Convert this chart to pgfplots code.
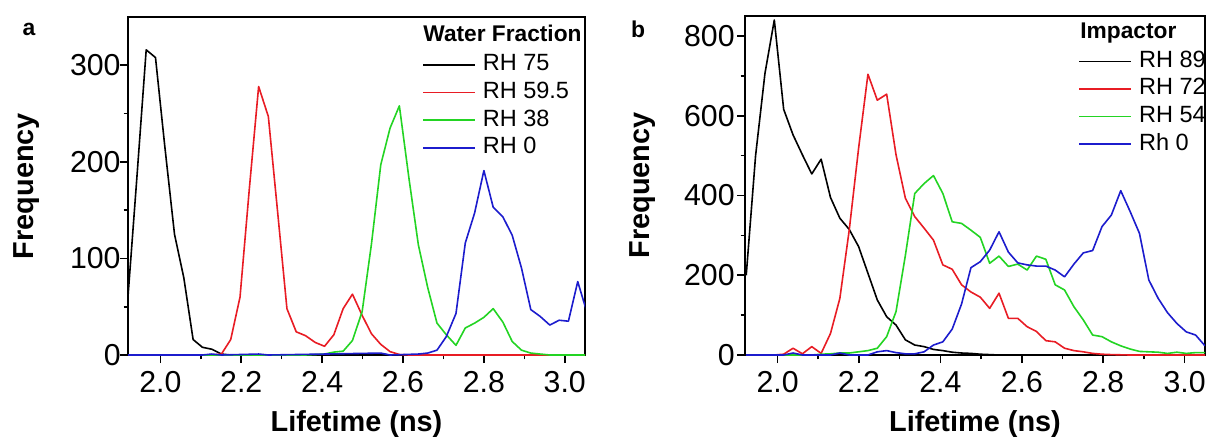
\documentclass[border=0pt]{standalone}
\usepackage{fontspec}
\setmainfont{Liberation Sans}
\usepackage{pgfplots}
\pgfplotsset{compat=1.18}

\definecolor{cred}{RGB}{232,28,36}
\definecolor{cgreen}{RGB}{35,212,35}
\definecolor{cblue}{RGB}{28,28,205}

\pgfplotsset{
  panel/.style={
    scale only axis,
    xmin=1.92, xmax=3.05, ymin=0,
    xtick={2.0,2.2,2.4,2.6,2.8,3.0},
    minor xtick={2.1,2.3,2.5,2.7,2.9},
    tick align=outside, xtick pos=bottom, ytick pos=left,
    major tick length=4bp, minor tick length=2.2bp,
    axis line style={line width=0.8bp},
    every tick/.style={black, line width=0.8bp},
    /pgf/number format/assume math mode=true,
    tick label style={font=\fontsize{15.2}{17}\selectfont},
    xticklabel style={/pgf/number format/fixed, /pgf/number format/fixed zerofill,
      /pgf/number format/precision=1, inner sep=0pt, yshift=-4bp},
    label style={font=\fontsize{14.5}{17}\selectfont\bfseries},
    xlabel={Lifetime (ns)}, ylabel={Frequency},
    xlabel style={at={(axis description cs:0.5,-0.205)}, anchor=center},
    ylabel style={at={(axis description cs:-0.222,0.5)}, anchor=center},
    every axis plot/.append style={line width=0.8bp, line join=round},
    legend cell align=left,
    legend style={draw=none, fill=none, anchor=north west, inner sep=0pt,
      row sep=0pt, column sep=3.5bp, font=\fontsize{11.8}{13}\selectfont,
      nodes={inner sep=0pt, text height=9.8bp, text depth=4bp}},
    legend image code/.code={\draw[mark repeat=2,mark phase=2,#1] plot coordinates {(0bp,0bp) (13bp,0bp) (26bp,0bp)};},
  },
}

\begin{document}
\begin{tikzpicture}
\useasboundingbox (0bp,0bp) rectangle (603bp,-221.5bp);

% panel a: water fraction
\begin{axis}[panel,
  at={(64bp,-177.5bp)}, anchor=south west,
  width=228.5bp, height=169bp,
  ymax=350, ytick={0,100,200,300}, minor ytick={50,150,250},
  yticklabel style={inner sep=0pt, xshift=0.5bp},
  legend style={at={(rel axis cs:0.643,0.900)}},
]
\addplot[black] coordinates {(1.919,55)(1.942,184)(1.965,316)(1.988,308)(2.011,216)(2.035,125)(2.058,80)(2.081,16)(2.104,8)(2.127,6)(2.151,1)(2.174,0)(2.3,0)(2.5,0)(2.7,0)(2.9,0)(3.055,0)};
\addlegendentry{RH 75}
\addplot[cred] coordinates {(1.919,0)(2.127,0)(2.151,1)(2.174,16)(2.197,60)(2.220,172)(2.243,278)(2.267,247)(2.290,148)(2.313,48)(2.336,24)(2.359,20)(2.383,13)(2.406,9)(2.429,21)(2.452,48)(2.475,63)(2.499,41)(2.522,22)(2.545,11)(2.568,3.5)(2.591,0.5)(2.615,0)(3.055,0)};
\addlegendentry{RH 59.5}
\addplot[cgreen] coordinates {(1.919,0)(2.359,0)(2.383,0.5)(2.406,1)(2.429,3)(2.452,4)(2.475,15)(2.499,45)(2.522,115)(2.545,197)(2.568,235)(2.591,258)(2.615,182)(2.638,114)(2.661,70)(2.684,33)(2.707,21)(2.731,10)(2.754,28)(2.777,33)(2.800,39)(2.823,48)(2.847,34)(2.870,14)(2.893,5)(2.916,2)(2.939,1)(2.963,0)(3.055,0)};
\addlegendentry{RH 38}
\addplot[cblue] coordinates {(1.919,0)(2.104,0)(2.127,1)(2.151,0)(2.243,1)(2.267,0)(2.545,2)(2.568,0)(2.638,1)(2.661,2)(2.684,5)(2.707,19)(2.731,43)(2.754,116)(2.777,147)(2.800,191)(2.823,153)(2.847,143)(2.870,124)(2.893,90)(2.916,47)(2.939,40)(2.963,31)(2.986,36)(3.009,35)(3.032,76)(3.055,44)};
\addlegendentry{RH 0}
\end{axis}

% panel b: impactor
\begin{axis}[panel,
  at={(372.5bp,-177.5bp)}, anchor=south west,
  width=230bp, height=169.5bp,
  ymax=850, ytick={0,200,400,600,800}, minor ytick={100,300,500,700},
  yticklabel style={inner sep=0pt, xshift=-1bp},
  legend style={at={(rel axis cs:0.724,0.908)}},
]
\addplot[black] coordinates {(1.923,200)(1.946,500)(1.969,706)(1.992,840)(2.015,616)(2.038,552)(2.061,502)(2.084,454)(2.107,491)(2.130,395)(2.153,343)(2.176,315)(2.199,272)(2.222,205)(2.245,138)(2.268,96)(2.291,75)(2.314,38)(2.337,25)(2.360,21)(2.383,14)(2.406,11)(2.429,7)(2.452,5)(2.475,4)(2.498,2)(2.521,1)(2.544,0)(3.050,0)};
\addlegendentry{RH 89}
\addplot[cred] coordinates {(1.923,0)(1.992,0)(2.015,2)(2.038,17)(2.061,3)(2.084,21)(2.107,4)(2.130,54)(2.153,142)(2.176,313)(2.199,518)(2.222,704)(2.245,639)(2.268,654)(2.291,502)(2.314,393)(2.337,347)(2.360,318)(2.383,288)(2.406,226)(2.429,215)(2.452,176)(2.475,158)(2.498,145)(2.521,117)(2.544,155)(2.567,92)(2.590,92)(2.613,71)(2.636,59)(2.659,36)(2.682,33)(2.705,17)(2.728,11)(2.751,8)(2.774,4)(2.797,2)(2.820,1)(2.843,0.5)(2.866,0)(3.050,0)};
\addlegendentry{RH 72}
\addplot[cgreen] coordinates {(1.923,0)(2.084,0)(2.107,2)(2.130,3)(2.153,5)(2.176,5)(2.199,8)(2.222,11)(2.245,17)(2.268,46)(2.291,109)(2.314,250)(2.337,405)(2.360,430)(2.383,450)(2.406,405)(2.429,334)(2.452,330)(2.475,313)(2.498,295)(2.521,230)(2.544,248)(2.567,222)(2.590,228)(2.613,213)(2.636,248)(2.659,240)(2.682,176)(2.705,163)(2.728,121)(2.751,88)(2.774,50)(2.797,46)(2.820,33)(2.843,23)(2.866,15)(2.889,9)(2.912,8)(2.935,7)(2.958,4)(2.981,7)(3.004,4)(3.027,6)(3.050,6)};
\addlegendentry{RH 54}
\addplot[cblue] coordinates {(1.923,0)(2.015,0)(2.038,5)(2.061,0)(2.130,0)(2.153,5)(2.176,0)(2.222,0)(2.245,8)(2.268,11)(2.291,6)(2.314,3)(2.337,3)(2.360,8)(2.383,25)(2.406,33)(2.429,65)(2.452,128)(2.475,219)(2.498,234)(2.521,263)(2.544,309)(2.567,258)(2.590,231)(2.613,226)(2.636,223)(2.659,223)(2.682,213)(2.705,196)(2.728,228)(2.751,256)(2.774,262)(2.797,322)(2.820,351)(2.843,412)(2.866,360)(2.889,305)(2.912,188)(2.935,142)(2.958,106)(2.981,79)(3.004,58)(3.027,50)(3.050,23)};
\addlegendentry{Rh 0}
\end{axis}

\node[anchor=west, inner sep=0pt, font=\fontsize{11.4}{13}\selectfont\bfseries] at (211.5bp,-16.5bp) {Water Fraction};
\node[anchor=west, inner sep=0pt, font=\fontsize{11.4}{13}\selectfont\bfseries] at (540bp,-16.5bp) {Impactor};
\node[font=\fontsize{11.5}{13}\selectfont\bfseries] at (14.5bp,-14.5bp) {a};
\node[font=\fontsize{11.5}{13}\selectfont\bfseries] at (319bp,-14.5bp) {b};
\end{tikzpicture}
\end{document}
